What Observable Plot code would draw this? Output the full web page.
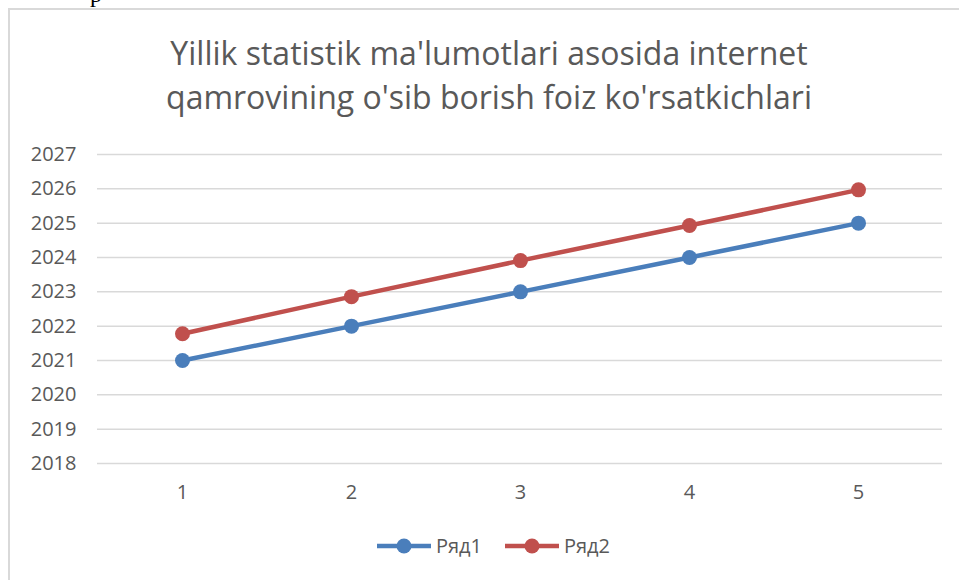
<!DOCTYPE html>
<html><head><meta charset="utf-8">
<script src="https://cdn.jsdelivr.net/npm/d3@7"></script>
<script src="https://cdn.jsdelivr.net/npm/@observablehq/plot@0.6"></script>
<style>
body{margin:0;background:#fff;width:959px;height:580px;overflow:hidden;position:relative;font-family:"Open Sans",sans-serif;}
#frame{position:absolute;left:8px;top:8px;width:1000px;height:1000px;border:2px solid #d9d9d9;box-sizing:border-box;pointer-events:none;z-index:3}
#ptext{position:absolute;left:90px;top:-19px;font-family:"Liberation Serif",serif;font-size:24px;color:#000;z-index:4}
#title{position:absolute;left:0;width:978px;top:31px;text-align:center;font-size:32px;line-height:44px;color:#595959;z-index:2}
#legend{position:absolute;top:532px;left:0;width:986px;display:flex;justify-content:center;gap:22px;z-index:2;font-size:20px;color:#595959}
#legend .item{display:flex;align-items:center;gap:4px}
#chart{position:absolute;left:0;top:0}
</style></head>
<body>
<div id="chart"></div>
<div id="frame"></div>
<div id="ptext">p</div>
<div id="title">Yillik statistik ma'lumotlari asosida internet<br>qamrovining o'sib borish foiz ko'rsatkichlari</div>
<div id="legend"></div>
<script>
const categories = [1, 2, 3, 4, 5];
const ryad1 = [2021, 2022, 2023, 2024, 2025];
const ryad2 = [2021.78, 2022.86, 2023.91, 2024.93, 2025.97];
const seriesNames = ["Ряд1", "Ряд2"];
const seriesColors = ["#4a7ebb", "#c0504d"];
const yTicks = [2018, 2019, 2020, 2021, 2022, 2023, 2024, 2025, 2026, 2027];

const data = categories.flatMap((c, i) => [
  {x: c, y: ryad1[i], s: seriesNames[0]},
  {x: c, y: ryad2[i], s: seriesNames[1]}
]);

const chart = Plot.plot({
  width: 959, height: 580,
  marginTop: 154, marginBottom: 117, marginLeft: 97, marginRight: 17,
  style: {fontFamily: "Open Sans", fontSize: "20px", color: "#595959", background: "white"},
  x: {type: "point", domain: categories, padding: 0.5, label: null},
  y: {domain: [2018, 2027], label: null},
  color: {domain: seriesNames, range: seriesColors},
  marks: [
    Plot.gridY(yTicks, {stroke: "#d9d9d9", strokeOpacity: 1, strokeWidth: 1.5}),
    Plot.axisY(yTicks, {tickSize: 0, tickPadding: 21, tickFormat: d => String(d), label: null}),
    Plot.axisX(categories, {tickSize: 0, tickPadding: 21, label: null}),
    Plot.line(data, {x: "x", y: "y", z: "s", stroke: "s", strokeWidth: 4.5}),
    Plot.dot(data, {x: "x", y: "y", fill: "s", r: 7.5})
  ]
});
document.getElementById("chart").appendChild(chart);

const legend = document.getElementById("legend");
seriesNames.forEach((name, i) => {
  const item = document.createElement("div");
  item.className = "item";
  item.innerHTML = `<svg width="56" height="18"><line x1="1" x2="55" y1="9" y2="9" stroke="${seriesColors[i]}" stroke-width="4.5"/><circle cx="28" cy="9" r="7.5" fill="${seriesColors[i]}"/></svg><span>${name}</span>`;
  legend.appendChild(item);
});
</script>
</body></html>
